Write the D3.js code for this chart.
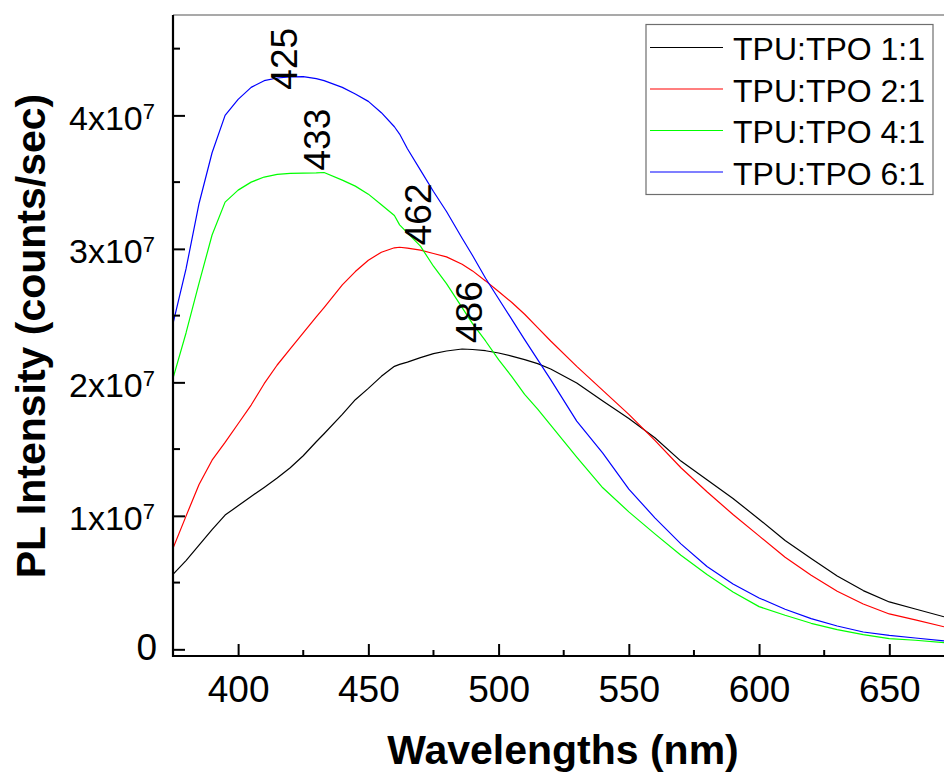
<!DOCTYPE html>
<html>
<head>
<meta charset="utf-8">
<script src="https://cdn.jsdelivr.net/npm/d3@7/dist/d3.min.js"></script>
<style>
  html, body { margin: 0; padding: 0; background: #fff; }
  svg { display: block; font-family: "Liberation Sans", Arial, Helvetica, sans-serif; }
</style>
</head>
<body>
<svg id="chart" width="944" height="774"></svg>
<script>
// Photoluminescence spectra of TPU:TPO blends (intensity in units of 10^7 counts/sec)
const wavelengths = [375,380,385,390,395,400,405,410,415,420,425,430,433,440,445,450,455,460,462,465,470,475,480,486,490,495,500,505,510,515,520,530,540,550,560,570,580,590,600,610,620,630,640,650,660,671];

const seriesNames = ["TPU:TPO 1:1", "TPU:TPO 2:1", "TPU:TPO 4:1", "TPU:TPO 6:1"];
const seriesColors = ["#000000", "#ff0000", "#00ff00", "#0000ff"];

const ratio1to1 = [0.562,0.665,0.78,0.897,1.006,1.075,1.145,1.213,1.283,1.36,1.45,1.555,1.615,1.76,1.87,1.955,2.045,2.12,2.135,2.152,2.185,2.215,2.235,2.25,2.246,2.237,2.22,2.197,2.17,2.14,2.1,1.995,1.86,1.73,1.585,1.41,1.27,1.13,0.975,0.815,0.68,0.55,0.44,0.355,0.302,0.244];
const ratio2to1 = [0.757,0.998,1.235,1.417,1.55,1.69,1.83,1.99,2.13,2.25,2.37,2.49,2.56,2.73,2.83,2.915,2.975,3.008,3.012,3.005,2.99,2.965,2.94,2.885,2.835,2.76,2.68,2.6,2.51,2.41,2.31,2.12,1.94,1.76,1.565,1.36,1.18,1.01,0.85,0.69,0.555,0.435,0.34,0.265,0.22,0.169];
const ratio4to1 = [2.03,2.37,2.743,3.104,3.35,3.44,3.5,3.538,3.558,3.565,3.567,3.569,3.572,3.515,3.47,3.41,3.33,3.25,3.18,3.12,3.02,2.87,2.74,2.56,2.44,2.31,2.17,2.045,1.91,1.8,1.68,1.44,1.21,1.03,0.865,0.705,0.56,0.43,0.32,0.255,0.195,0.148,0.11,0.08,0.068,0.05];
const ratio6to1 = [2.44,2.85,3.34,3.72,4.0,4.12,4.21,4.26,4.28,4.288,4.29,4.275,4.26,4.21,4.16,4.105,4.02,3.915,3.86,3.75,3.59,3.43,3.28,3.08,2.95,2.78,2.626,2.474,2.32,2.17,2.02,1.71,1.47,1.2,0.985,0.79,0.62,0.49,0.385,0.3,0.23,0.175,0.13,0.104,0.085,0.064];

const seriesValues = [ratio1to1, ratio2to1, ratio4to1, ratio6to1];

// Emission maxima (nm) annotated on each curve
const peakWavelengths = [486, 462, 433, 425];
const peakSeries = [0, 1, 2, 3];

const xMajorTicks = [400, 450, 500, 550, 600, 650];
const xMinorTicks = [425, 475, 525, 575, 625];
const yMajorTicks = [0, 1, 2, 3, 4];
const yMinorTicks = [0.5, 1.5, 2.5, 3.5, 4.5];

const UNIT = 1e7;

(function draw() {
  const svg = d3.select("#chart");
  const plotLeft = 173, plotRight = 944, plotTop = 15, plotBottom = 656;

  const x = d3.scaleLinear().domain([375, 671]).range([plotLeft, plotRight]);
  const y = d3.scaleLinear().domain([-0.05 * UNIT, 4.752 * UNIT]).range([plotBottom, plotTop]);

  svg.append("defs").append("clipPath").attr("id", "plotClip")
    .append("rect").attr("x", plotLeft).attr("y", plotTop)
    .attr("width", plotRight - plotLeft).attr("height", plotBottom - plotTop);

  // Top frame line
  svg.append("line").attr("x1", plotLeft).attr("x2", plotRight).attr("y1", plotTop).attr("y2", plotTop)
    .attr("stroke", "#8c8c8c").attr("stroke-width", 1.5);

  // Curves
  const line = d3.line().x(d => x(d[0])).y(d => y(d[1] * UNIT)).curve(d3.curveLinear);
  const curves = svg.append("g").attr("clip-path", "url(#plotClip)");
  seriesValues.forEach((vals, i) => {
    curves.append("path")
      .datum(wavelengths.map((w, j) => [w, vals[j]]))
      .attr("fill", "none")
      .attr("stroke", seriesColors[i])
      .attr("stroke-width", 1.2)
      .attr("stroke-linejoin", "round")
      .attr("d", line);
  });

  // X axis (ticks pointing into the plot)
  const xAxis = svg.append("g").attr("transform", `translate(0,${plotBottom})`);
  xAxis.call(d3.axisBottom(x).tickValues(xMajorTicks).tickSizeInner(-12).tickSizeOuter(0).tickPadding(0).tickFormat(d3.format("d")));
  xAxis.select(".domain").remove();
  xAxis.selectAll(".tick line").attr("stroke", "#000").attr("stroke-width", 2);
  xAxis.selectAll(".tick text").attr("y", 46).attr("dy", null)
    .attr("font-size", 37).attr("fill", "#000")
    .attr("font-family", "'Liberation Sans', Arial, sans-serif");
  xAxis.selectAll(".minor").data(xMinorTicks).enter().append("line")
    .attr("x1", d => x(d)).attr("x2", d => x(d)).attr("y1", 0).attr("y2", -6)
    .attr("stroke", "#000").attr("stroke-width", 2);
  xAxis.append("line").attr("x1", plotLeft - 1).attr("x2", plotRight).attr("y1", 0).attr("y2", 0)
    .attr("stroke", "#000").attr("stroke-width", 2.2);

  // Y axis (ticks pointing into the plot)
  const yAxis = svg.append("g").attr("transform", `translate(${plotLeft},0)`);
  yAxis.call(d3.axisLeft(y).tickValues(yMajorTicks.map(v => v * UNIT)).tickSizeInner(-12).tickSizeOuter(0).tickFormat(() => ""));
  yAxis.select(".domain").remove();
  yAxis.selectAll(".tick line").attr("stroke", "#000").attr("stroke-width", 2);
  yAxis.selectAll(".tick text").remove();
  yAxis.selectAll(".minor").data(yMinorTicks).enter().append("line")
    .attr("x1", 0).attr("x2", 7).attr("y1", d => y(d * UNIT)).attr("y2", d => y(d * UNIT))
    .attr("stroke", "#000").attr("stroke-width", 2);
  yAxis.append("line").attr("x1", 0).attr("x2", 0).attr("y1", plotTop).attr("y2", plotBottom + 1)
    .attr("stroke", "#000").attr("stroke-width", 2.2);

  // Y tick labels in scientific notation
  yMajorTicks.forEach(v => {
    const ty = y(v * UNIT);
    if (v === 0) {
      svg.append("text").attr("x", 157).attr("y", ty + 11)
        .attr("text-anchor", "end").attr("font-size", 37).attr("fill", "#000").text("0");
    } else {
      const t = svg.append("text").attr("x", 155).attr("y", ty + 14.5)
        .attr("text-anchor", "end").attr("font-size", 34).attr("fill", "#000");
      t.append("tspan").text(`${v}x10`);
      t.append("tspan").attr("font-size", 22).attr("dy", -11).text("7");
    }
  });

  // Axis titles
  svg.append("text").attr("x", 563).attr("y", 764).attr("text-anchor", "middle")
    .attr("font-size", 41).attr("font-weight", "bold").attr("fill", "#000")
    .text("Wavelengths (nm)");
  svg.append("text").attr("transform", "translate(45,336) rotate(-90)").attr("text-anchor", "middle")
    .attr("font-size", 41).attr("font-weight", "bold").attr("fill", "#000")
    .text("PL Intensity (counts/sec)");

  // Peak annotations (rotated, reading upward)
  const labelOffsets = [[20, 6], [31, 2], [6, 2], [-6, -13]];
  peakWavelengths.forEach((w, i) => {
    const s = peakSeries[i];
    const j = wavelengths.indexOf(w);
    const px = x(w) + labelOffsets[i][0];
    const py = y(seriesValues[s][j] * UNIT) - labelOffsets[i][1];
    svg.append("text").attr("transform", `translate(${px},${py}) rotate(-90)`)
      .attr("text-anchor", "start").attr("font-size", 37).attr("fill", "#000")
      .text(String(w));
  });

  // Legend
  const legend = svg.append("g");
  legend.append("rect").attr("x", 646).attr("y", 24.5).attr("width", 287).attr("height", 170)
    .attr("fill", "#fff").attr("stroke", "#6e6e6e").attr("stroke-width", 1.2);
  seriesNames.forEach((name, i) => {
    const ly = 47.5 + i * 41.5;
    legend.append("line").attr("x1", 650).attr("x2", 723).attr("y1", ly).attr("y2", ly)
      .attr("stroke", seriesColors[i]).attr("stroke-width", 1.2);
    legend.append("text").attr("x", 733).attr("y", ly + 12.5)
      .attr("font-size", 32).attr("fill", "#000").text(name);
  });
})();
</script>
</body>
</html>
